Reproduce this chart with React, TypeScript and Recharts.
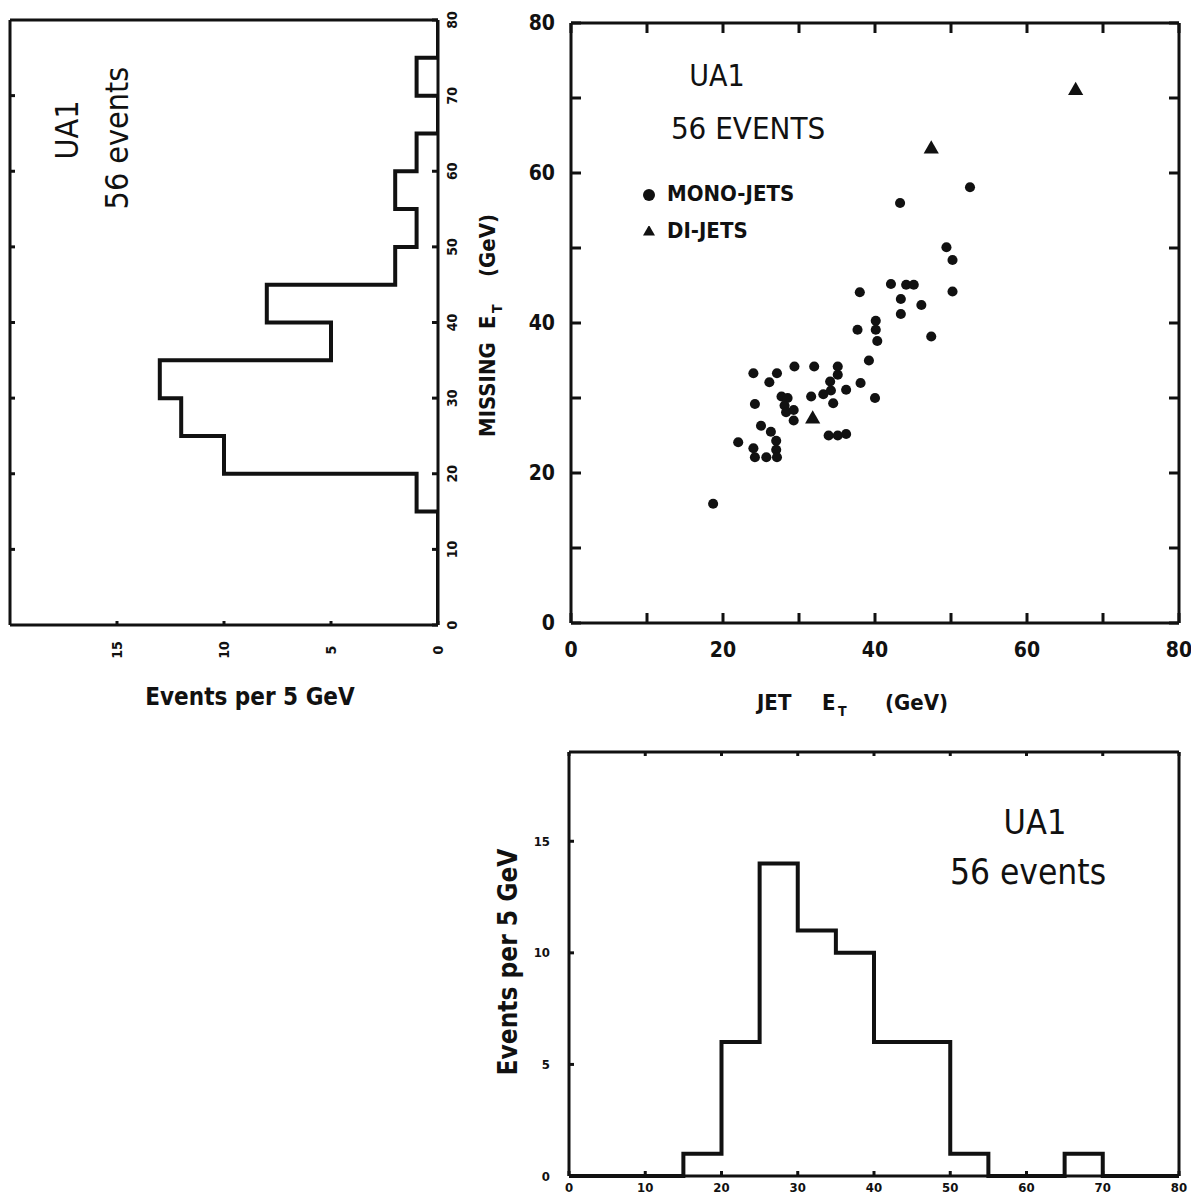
import React from 'react';
import { LineChart, Line, ScatterChart, Scatter, XAxis, YAxis, Legend, Symbols } from 'recharts';

const FONT = '"DejaVu Sans Condensed", "DejaVu Sans", sans-serif';
const INK = '#111';
const AXIS = { stroke: INK, strokeWidth: 3 };

// 5 GeV bins, last entry closes the step at 80 GeV
const BIN_EDGES = [0, 5, 10, 15, 20, 25, 30, 35, 40, 45, 50, 55, 60, 65, 70, 75, 80];
const MISSING_ET_COUNTS = [0, 0, 0, 1, 10, 12, 13, 5, 8, 2, 1, 2, 1, 0, 1, 0, 0];
const JET_ET_COUNTS = [0, 0, 0, 1, 6, 14, 11, 10, 6, 6, 1, 0, 0, 1, 0, 0, 0];

// scatter: jet ET vs missing ET (GeV)
const MONO_JET_ET = [
  18.7, 22.0, 24.0, 24.2, 24.0, 24.2, 25.0, 26.1, 26.3, 25.7, 27.1, 27.0, 27.0, 27.1,
  27.7, 28.5, 28.1, 28.3, 29.3, 29.3, 29.4, 31.6, 32.0, 33.2, 34.1, 34.2, 34.5, 35.1,
  35.1, 36.2, 33.9, 35.1, 36.2, 38.1, 39.2, 40.0, 37.7, 40.1, 40.1, 40.3, 38.0, 42.1,
  43.4, 43.4, 44.1, 45.1, 46.1, 47.4, 43.3, 49.4, 50.2, 50.2, 52.5,
];
const MONO_MISSING_ET = [
  15.9, 24.1, 33.3, 29.2, 23.3, 22.1, 26.3, 32.1, 25.5, 22.1, 33.3, 24.3, 23.1, 22.1,
  30.2, 30.0, 29.0, 28.1, 28.4, 27.0, 34.2, 30.2, 34.2, 30.5, 32.2, 31.0, 29.3, 34.2,
  33.1, 31.1, 25.0, 25.0, 25.2, 32.0, 35.0, 30.0, 39.1, 40.3, 39.1, 37.6, 44.1, 45.2,
  43.2, 41.2, 45.1, 45.1, 42.4, 38.2, 56.0, 50.1, 48.4, 44.2, 58.1,
];
const DI_JET_ET = [31.8, 47.4, 66.4];
const DI_MISSING_ET = [27.2, 63.2, 71.0];

const GEV_TICKS = [0, 10, 20, 30, 40, 50, 60, 70, 80];
const GEV_INNER_TICKS = [10, 20, 30, 40, 50, 60, 70];
const SCATTER_LABELS = [0, 20, 40, 60, 80];
const COUNT_TICKS = [0, 5, 10, 15];
const LEGEND_ORDER = ['MONO-JETS', 'DI-JETS'];

const missingData = BIN_EDGES.map((edge, i) => ({ edge, count: MISSING_ET_COUNTS[i] }));
const jetData = BIN_EDGES.map((edge, i) => ({ edge, count: JET_ET_COUNTS[i] }));
const monoData = MONO_JET_ET.map((jet, i) => ({ jet, met: MONO_MISSING_ET[i] }));
const diData = DI_JET_ET.map((jet, i) => ({ jet, met: DI_MISSING_ET[i] }));

type Side = 'left' | 'right' | 'top' | 'bottom';
const INWARD: Record<Side, [number, number]> = { left: [1, 0], right: [-1, 0], top: [0, 1], bottom: [0, -1] };

interface TickOpts {
  side: Side;
  len: number;
  labels?: number[];
  dx?: number;
  dy?: number;
  size?: number;
  anchor?: 'start' | 'middle' | 'end';
  rotate?: boolean;
}

// tickSize and tickMargin are 0, so (x, y) sits on the axis line: draw the mark inward, label outward
const tickMaker = (o: TickOpts) => (props: any) => {
  const { x, y, payload } = props;
  const v = payload.value as number;
  const [ix, iy] = INWARD[o.side];
  const lx = x + (o.dx ?? 0);
  const ly = y + (o.dy ?? 0);
  const showLabel = (o.labels ?? []).includes(v);
  return (
    <g>
      {o.len > 0 && <line x1={x} y1={y} x2={x + ix * o.len} y2={y + iy * o.len} stroke={INK} strokeWidth={3} />}
      {showLabel && (
        <text
          x={lx}
          y={ly}
          textAnchor={o.anchor ?? 'middle'}
          dominantBaseline="central"
          fontSize={o.size ?? 21}
          fontWeight="bold"
          fontFamily={FONT}
          fill={INK}
          transform={o.rotate ? `rotate(-90 ${lx} ${ly})` : undefined}
        >
          {v}
        </text>
      )}
    </g>
  );
};

// scatter markers with a fixed symbol area
const marker = (type: 'circle' | 'triangle', size: number) => (props: any) => (
  <Symbols cx={props.cx} cy={props.cy} type={type} size={size} fill={INK} />
);

const textStyle = { fontFamily: FONT, fill: INK };

// frame axes get a 1px box (a 0px axis is not drawn at all), so the margins below are 1px smaller
export default function App() {
  return (
    <div style={{ position: 'absolute', left: 0, top: 0, width: 1191, height: 1194, background: '#fff', fontFamily: FONT }}>
      {/* missing ET histogram, turned on its side */}
      <div style={{ position: 'absolute', left: 0, top: 0 }}>
        <LineChart width={480} height={720} layout="vertical" data={missingData} margin={{ top: 19, right: 0, bottom: 0, left: 9 }}>
          <XAxis
            xAxisId="events"
            type="number"
            dataKey="count"
            domain={[0, 20]}
            allowDataOverflow
            reversed
            ticks={COUNT_TICKS}
            interval={0}
            height={95}
            tickSize={0}
            tickMargin={0}
            tickLine={false}
            axisLine={AXIS}
            tick={tickMaker({ side: 'bottom', len: 4, labels: COUNT_TICKS, dy: 25, size: 14, rotate: true })}
          />
          <XAxis xAxisId="frameTop" orientation="top" type="number" dataKey="count" domain={[0, 20]} allowDataOverflow reversed height={1} tick={false} tickLine={false} axisLine={AXIS} />
          <YAxis
            yAxisId="met"
            orientation="right"
            type="number"
            dataKey="edge"
            domain={[0, 80]}
            allowDataOverflow
            reversed
            ticks={GEV_TICKS}
            interval={0}
            width={42}
            tickSize={0}
            tickMargin={0}
            tickLine={false}
            axisLine={AXIS}
            tick={tickMaker({ side: 'right', len: 6, labels: GEV_TICKS, dx: 14, size: 14, rotate: true })}
          />
          <YAxis
            yAxisId="frameLeft"
            orientation="left"
            type="number"
            dataKey="edge"
            domain={[0, 80]}
            allowDataOverflow
            reversed
            ticks={GEV_INNER_TICKS}
            interval={0}
            width={1}
            tickSize={0}
            tickMargin={0}
            tickLine={false}
            axisLine={AXIS}
            tick={tickMaker({ side: 'left', len: 5 })}
          />
          <Line xAxisId="events" yAxisId="met" dataKey="count" type="stepBefore" stroke={INK} strokeWidth={4} dot={false} isAnimationActive={false} />
          {/* invisible copy so the top/left frame axes get a domain */}
          <Line xAxisId="frameTop" yAxisId="frameLeft" dataKey="count" stroke="none" dot={false} activeDot={false} legendType="none" isAnimationActive={false} />
          <text x={67} y={130} fontSize={32} textAnchor="middle" dominantBaseline="central" transform="rotate(-90 67 130)" {...textStyle}>UA1</text>
          <text x={117} y={138} fontSize={32} textAnchor="middle" dominantBaseline="central" transform="rotate(-90 117 138)" {...textStyle}>56 events</text>
          <text x={250} y={697} fontSize={24} fontWeight="bold" textAnchor="middle" dominantBaseline="central" {...textStyle}>Events per 5 GeV</text>
        </LineChart>
      </div>

      {/* jet ET vs missing ET scatter */}
      <div style={{ position: 'absolute', left: 455, top: 0 }}>
        <ScatterChart width={736} height={720} margin={{ top: 22, right: 11, bottom: 0, left: 0 }}>
          <XAxis
            xAxisId="jet"
            dataKey="jet"
            type="number"
            domain={[0, 80]}
            ticks={GEV_TICKS}
            interval={0}
            height={97}
            tickSize={0}
            tickMargin={0}
            tickLine={false}
            axisLine={AXIS}
            tick={tickMaker({ side: 'bottom', len: 10, labels: SCATTER_LABELS, dy: 27, size: 21 })}
          />
          <XAxis
            xAxisId="jetTop"
            orientation="top"
            dataKey="jet"
            type="number"
            domain={[0, 80]}
            allowDataOverflow
            ticks={GEV_TICKS}
            interval={0}
            height={1}
            tickSize={0}
            tickMargin={0}
            tickLine={false}
            axisLine={AXIS}
            tick={tickMaker({ side: 'top', len: 10 })}
          />
          <YAxis
            yAxisId="met"
            dataKey="met"
            type="number"
            domain={[0, 80]}
            ticks={GEV_TICKS}
            interval={0}
            width={116}
            tickSize={0}
            tickMargin={0}
            tickLine={false}
            axisLine={AXIS}
            tick={tickMaker({ side: 'left', len: 10, labels: SCATTER_LABELS, dx: -16, anchor: 'end', size: 21 })}
          />
          <YAxis
            yAxisId="metRight"
            orientation="right"
            dataKey="met"
            type="number"
            domain={[0, 80]}
            allowDataOverflow
            ticks={GEV_TICKS}
            interval={0}
            width={1}
            tickSize={0}
            tickMargin={0}
            tickLine={false}
            axisLine={AXIS}
            tick={tickMaker({ side: 'right', len: 10 })}
          />
          <Scatter xAxisId="jet" yAxisId="met" name="MONO-JETS" data={monoData} fill={INK} shape={marker('circle', 80)} legendType="circle" isAnimationActive={false} />
          <Scatter xAxisId="jet" yAxisId="met" name="DI-JETS" data={diData} fill={INK} shape={marker('triangle', 100)} legendType="triangle" isAnimationActive={false} />
          {/* invisible copy so the top/right frame axes get a domain */}
          <Scatter xAxisId="jetTop" yAxisId="metRight" data={monoData} fill="none" legendType="none" isAnimationActive={false} />
          <Legend
            layout="vertical"
            align="center"
            verticalAlign="middle"
            iconSize={12}
            itemSorter={(item: any) => LEGEND_ORDER.indexOf(item.value)}
            wrapperStyle={{ left: 188, top: 175, width: 'auto', lineHeight: '37px', fontSize: 22, fontWeight: 'bold', fontFamily: FONT }}
            formatter={(value: string) => <span style={{ color: INK, marginLeft: 8 }}>{value}</span>}
          />
          <text x={262} y={75} fontSize={30} textAnchor="middle" dominantBaseline="central" {...textStyle}>UA1</text>
          <text x={293} y={128} fontSize={31} textAnchor="middle" dominantBaseline="central" {...textStyle}>56 EVENTS</text>
          <text y={710} fontSize={22} fontWeight="bold" {...textStyle}>
            <tspan x={302}>JET</tspan>
            <tspan x={367}>E</tspan>
            <tspan x={383} dy={6} fontSize={14}>T</tspan>
            <tspan x={430} dy={-6}>(GeV)</tspan>
          </text>
          <text transform="translate(40 437) rotate(-90)" fontSize={22} fontWeight="bold" {...textStyle}>
            <tspan x={0} y={0}>MISSING</tspan>
            <tspan x={108}>E</tspan>
            <tspan x={124} dy={7} fontSize={14}>T</tspan>
            <tspan x={160} dy={-7}>(GeV)</tspan>
          </text>
        </ScatterChart>
      </div>

      {/* jet ET histogram */}
      <div style={{ position: 'absolute', left: 480, top: 730 }}>
        <LineChart width={711} height={464} data={jetData} margin={{ top: 21, right: 11, bottom: 0, left: 0 }}>
          <XAxis
            xAxisId="jet"
            dataKey="edge"
            type="number"
            domain={[0, 80]}
            ticks={GEV_TICKS}
            interval={0}
            height={18}
            tickSize={0}
            tickMargin={0}
            tickLine={false}
            axisLine={AXIS}
            tick={tickMaker({ side: 'bottom', len: 5, labels: GEV_TICKS, dy: 11, size: 13 })}
          />
          <XAxis
            xAxisId="jetTop"
            orientation="top"
            dataKey="edge"
            type="number"
            domain={[0, 80]}
            allowDataOverflow
            ticks={GEV_TICKS}
            interval={0}
            height={1}
            tickSize={0}
            tickMargin={0}
            tickLine={false}
            axisLine={AXIS}
            tick={tickMaker({ side: 'top', len: 4 })}
          />
          <YAxis
            yAxisId="count"
            type="number"
            domain={[0, 19]}
            ticks={COUNT_TICKS}
            interval={0}
            width={89}
            tickSize={0}
            tickMargin={0}
            tickLine={false}
            axisLine={AXIS}
            tick={tickMaker({ side: 'left', len: 5, labels: COUNT_TICKS, dx: -19, anchor: 'end', size: 13 })}
          />
          <YAxis yAxisId="countRight" orientation="right" type="number" domain={[0, 19]} allowDataOverflow width={1} tick={false} tickLine={false} axisLine={AXIS} />
          <Line xAxisId="jet" yAxisId="count" dataKey="count" type="stepAfter" stroke={INK} strokeWidth={4} dot={false} isAnimationActive={false} />
          {/* invisible copy so the top/right frame axes get a domain */}
          <Line xAxisId="jetTop" yAxisId="countRight" dataKey="count" stroke="none" dot={false} activeDot={false} legendType="none" isAnimationActive={false} />
          <text x={555} y={92} fontSize={34} textAnchor="middle" dominantBaseline="central" {...textStyle}>UA1</text>
          <text x={548} y={142} fontSize={35} textAnchor="middle" dominantBaseline="central" {...textStyle}>56 events</text>
          <text x={28} y={232} fontSize={26} fontWeight="bold" textAnchor="middle" dominantBaseline="central" transform="rotate(-90 28 232)" {...textStyle}>Events per 5 GeV</text>
        </LineChart>
      </div>
    </div>
  );
}
